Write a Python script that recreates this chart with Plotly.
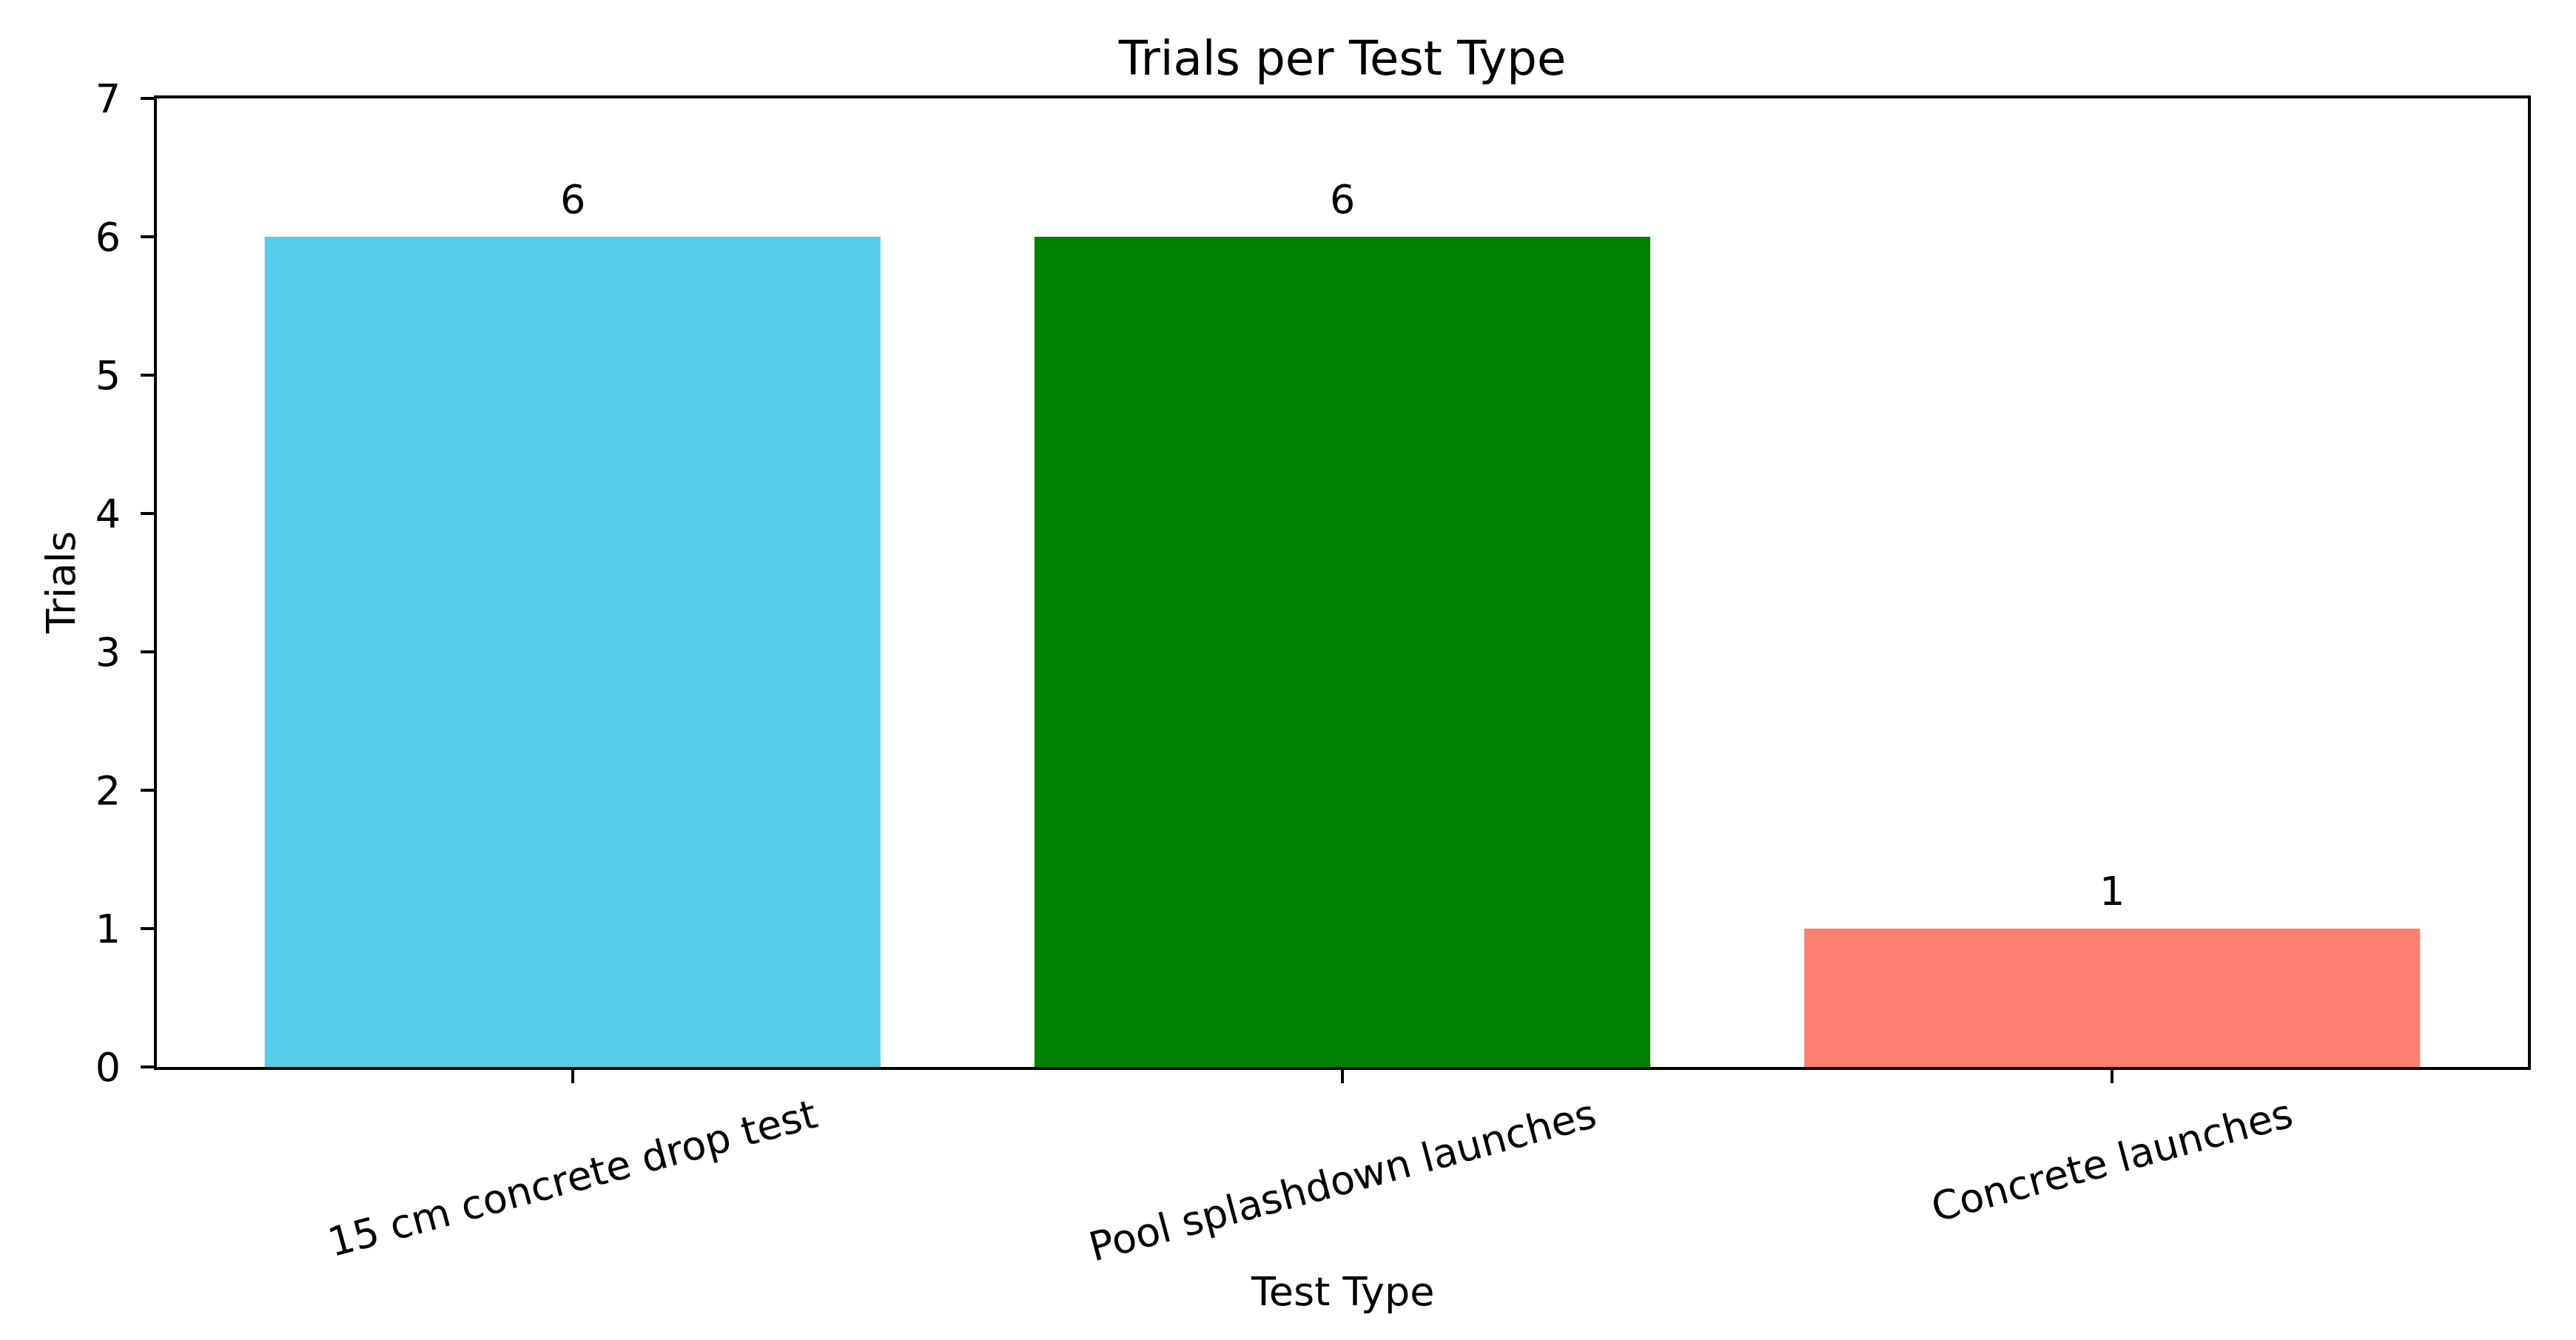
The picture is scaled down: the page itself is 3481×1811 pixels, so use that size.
import plotly.graph_objects as go

# data
test_types = ["15 cm concrete drop test", "Pool splashdown launches", "Concrete launches"]
trials = [6, 6, 1]
y_ticks = [0, 1, 2, 3, 4, 5, 6, 7]

bar_colors = ["#58CCEB", "#008000", "#FC8072"]
FONT = "DejaVu Sans"
W, H = 3481, 1811
FS = 54      # tick / label size
FS_T = 64    # title size

fig = go.Figure()
fig.add_trace(go.Bar(
    x=list(range(len(test_types))),
    y=trials,
    width=0.8,
    marker=dict(color=bar_colors, line=dict(width=0)),
    hoverinfo="skip",
))

# value labels above the bars
for i, v in enumerate(trials):
    fig.add_annotation(x=i, y=v, xref="x", yref="y", text=str(v),
                       showarrow=False, yanchor="bottom", yshift=17,
                       font=dict(family=FONT, size=FS, color="black"))

# rotated category labels, centred under the ticks (matplotlib style)
for i, name in enumerate(test_types):
    fig.add_annotation(x=i, y=0, xref="x", yref="paper", text=name,
                       showarrow=False, textangle=-15,
                       xanchor="center", yanchor="top", yshift=-29,
                       font=dict(family=FONT, size=FS, color="black"))

# axis titles
fig.add_annotation(x=0.5, y=0, xref="paper", yref="paper", text="Test Type",
                   showarrow=False, xanchor="center", yanchor="top", yshift=-270,
                   font=dict(family=FONT, size=FS, color="black"))
fig.add_annotation(x=0, y=0.5, xref="paper", yref="paper", text="Trials",
                   showarrow=False, textangle=-90, xanchor="right", yanchor="middle",
                   xshift=-96, font=dict(family=FONT, size=FS, color="black"))

fig.update_layout(
    width=W, height=H, autosize=False,
    margin=dict(l=212, r=65, t=133, b=369, pad=0),
    paper_bgcolor="white", plot_bgcolor="white",
    showlegend=False,
    font=dict(family=FONT, size=FS, color="black"),
    title=dict(text="Trials per Test Type", x=0.5, xref="paper", xanchor="center",
               y=1, yref="paper", yanchor="bottom", pad=dict(b=32),
               font=dict(family=FONT, size=FS_T, color="black")),
)
fig.update_xaxes(
    range=[-0.54, 2.54], tickvals=list(range(len(test_types))),
    showticklabels=False, ticks="outside", ticklen=18, tickwidth=4, tickcolor="black",
    showline=True, linecolor="black", linewidth=4, mirror=True,
    showgrid=False, zeroline=False, fixedrange=True,
)
fig.update_yaxes(
    range=[0, 7], tickvals=y_ticks,
    ticks="outside", ticklen=18, tickwidth=4, tickcolor="black",
    ticklabelstandoff=16,
    tickfont=dict(family=FONT, size=FS, color="black"),
    showline=True, linecolor="black", linewidth=4, mirror=True,
    showgrid=False, zeroline=False, fixedrange=True,
)

fig.write_html("out.html", config={"displayModeBar": False},
               post_script="document.body.style.margin='0';document.body.style.overflow='hidden';")
